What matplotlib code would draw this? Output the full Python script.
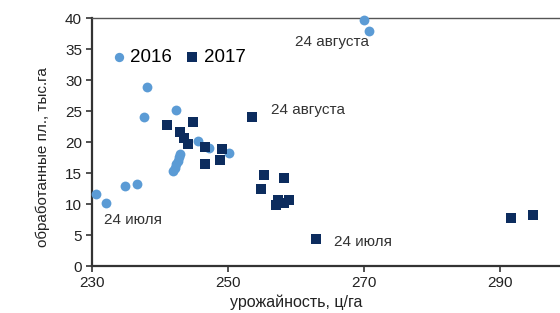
import matplotlib.pyplot as plt

plt.rcParams['font.family'] = ['Liberation Sans', 'DejaVu Sans']

# 2016 (circles)
x2016 = [230.6, 232.1, 234.9, 236.7, 238.1, 237.6, 242.4,
         242.0, 242.2, 242.4, 242.6, 242.8, 243.0,
         245.6, 247.2, 250.1, 270.0, 270.8]
y2016 = [11.7, 10.2, 12.9, 13.2, 28.9, 24.0, 25.2,
         15.4, 15.9, 16.5, 17.0, 17.6, 18.0,
         20.2, 19.0, 18.2, 39.7, 38.0]

# 2017 (squares)
x2017 = [241.0, 244.8, 242.9, 243.5, 244.1, 246.6, 249.1, 246.7, 248.8,
         253.6, 255.3, 258.3, 254.9, 257.4, 258.3, 259.0, 257.1,
         263.0, 291.6, 294.9]
y2017 = [22.7, 23.2, 21.6, 20.6, 19.7, 19.2, 18.9, 16.5, 17.1,
         24.0, 14.7, 14.2, 12.4, 10.6, 10.2, 10.6, 9.8,
         4.4, 7.7, 8.2]

labels = [("24 июля", 231.8, 7.4), ("24 июля", 265.6, 3.9),
          ("24 августа", 259.8, 36.1), ("24 августа", 256.3, 25.2)]

fig = plt.figure(figsize=(5.6, 3.13), dpi=100)
ax = fig.add_axes([0.164, 0.150, 0.836, 0.792])

ax.scatter(x2016, y2016, s=50, marker='o', color='#5B9BD5', label='2016',
           linewidths=0, zorder=3, clip_on=False)
ax.scatter(x2017, y2017, s=55, marker='s', color='#0C2C5E', label='2017',
           linewidths=0, zorder=4)

for txt, lx, ly in labels:
    ax.text(lx, ly, txt, fontsize=11, color='#333333', va='center', ha='left')

ax.set_xlim(230, 298.8)
ax.set_ylim(0, 40)
ax.set_xticks([230, 250, 270, 290])
ax.set_yticks(range(0, 41, 5))
ax.tick_params(labelsize=11, length=4, width=1.2, color='#333333',
               labelcolor='#222222', direction='out', pad=3)

for s in ['left', 'bottom']:
    ax.spines[s].set_linewidth(1.6)
    ax.spines[s].set_color('#333333')
ax.spines['top'].set_linewidth(1.0)
ax.spines['top'].set_color('#555555')
ax.spines['right'].set_visible(False)

ax.set_xlabel("урожайность, ц/га", fontsize=11.5, color='#222222')
ax.set_ylabel("обработанные пл., тыс.га", fontsize=11, color='#222222')
ax.xaxis.set_label_coords(0.436, -0.115)
ax.yaxis.set_label_coords(-0.089, 0.44)

ax.legend(loc='center left', bbox_to_anchor=(0.045, 0.843), ncol=2, frameon=False,
          fontsize=13.5, handletextpad=0.3, columnspacing=0.8, markerscale=0.95,
          handlelength=0.6, borderpad=0, borderaxespad=0)

fig.savefig("out.png", dpi=100)
